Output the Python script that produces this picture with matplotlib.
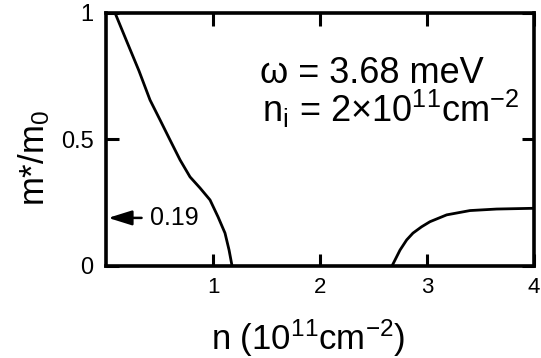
import matplotlib
matplotlib.use("Agg")
import matplotlib.pyplot as plt

plt.rcParams['font.family'] = ['Liberation Sans', 'DejaVu Sans']
plt.rcParams['mathtext.default'] = 'regular'

# effective mass ratio vs. electron density, low-density branch
n_low = [0.084, 0.196, 0.308, 0.411, 0.505, 0.598, 0.692, 0.785, 0.879,
         0.972, 1.047, 1.112, 1.15, 1.178]
m_low = [1.0, 0.885, 0.771, 0.656, 0.577, 0.498, 0.419, 0.352, 0.308,
         0.261, 0.194, 0.130, 0.063, 0.0]

# high-density branch
n_high = [2.673, 2.748, 2.810, 2.869, 2.950, 3.028, 3.184, 3.402, 3.651, 4.0]
m_high = [0.0, 0.063, 0.103, 0.130, 0.155, 0.175, 0.202, 0.219, 0.225, 0.228]

m_limit = 0.19
x_ticks = [1, 2, 3, 4]
y_ticks = [0, 0.5, 1]
y_ticklabels = ['0', '0.5', '1']

fig = plt.figure(figsize=(5.41, 3.58), dpi=100)
ax = fig.add_axes([0.196, 0.257, 0.791, 0.707])

ax.plot(n_low, m_low, color='black', lw=2.0, solid_capstyle='butt')
ax.plot(n_high, m_high, color='black', lw=2.0, solid_capstyle='butt')

ax.set_xlim(0, 4)
ax.set_ylim(0, 1)
ax.set_xticks(x_ticks)
ax.set_xticklabels([str(t) for t in x_ticks])
ax.set_yticks(y_ticks)
ax.set_yticklabels(y_ticklabels)

for s in ax.spines.values():
    s.set_linewidth(2.6)
ax.tick_params(direction='in', length=9, width=2.2, top=True, right=True)
ax.tick_params(axis='x', labelsize=16, pad=8)
ax.tick_params(axis='y', labelsize=17, pad=9)

ax.set_xlabel('n (10$^{11}$cm$^{-2}$)', fontsize=25, va='center')
ax.xaxis.set_label_coords(0.472, -0.285)
ax.set_ylabel('m*/m$_0$', fontsize=25, va='center')
ax.yaxis.set_label_coords(-0.168, 0.427)

ax.annotate('0.19', xy=(0.02, m_limit), xytext=(0.41, m_limit),
            fontsize=18, ha='left', va='center',
            arrowprops=dict(arrowstyle='-|>,head_length=0.8,head_width=0.25',
                            color='black', lw=1.8, shrinkA=4, shrinkB=0))

ax.text(1.44, 0.723, 'ω = 3.68 meV', fontsize=26, ha='left', va='baseline')
ax.text(1.46, 0.569, 'n$_i$ = 2×10$^{11}$cm$^{-2}$', fontsize=26,
        ha='left', va='baseline')

fig.savefig('out.png', dpi=100)
